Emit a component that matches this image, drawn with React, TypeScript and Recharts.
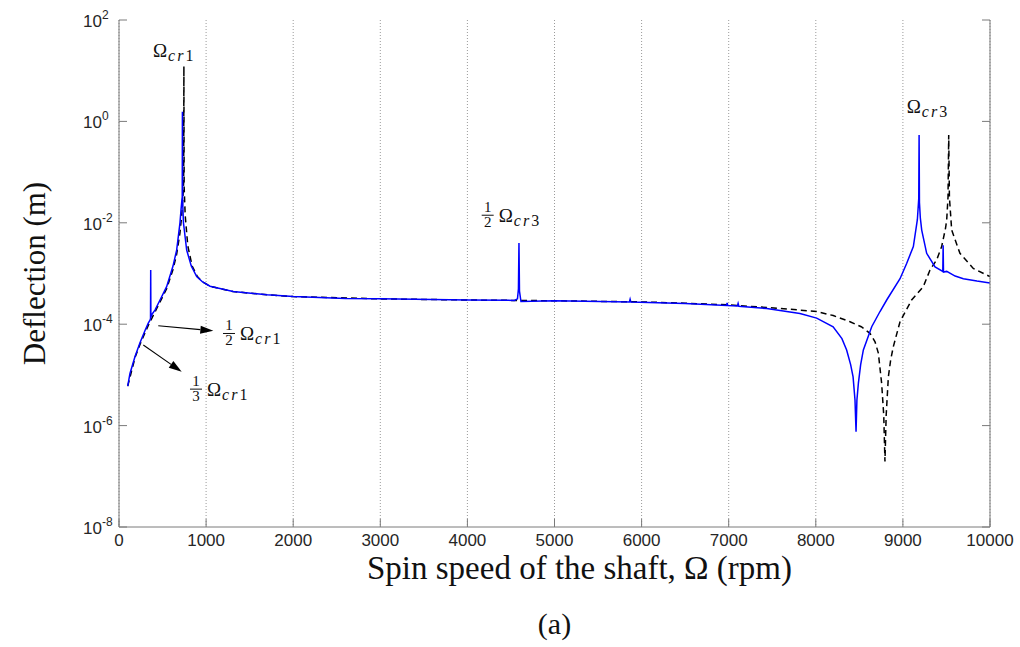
import React from 'react';
import { LineChart, Line, XAxis, YAxis, CartesianGrid, ReferenceDot, ReferenceLine, Label } from 'recharts';

// ---------- data ----------
const xTicks = [0, 1000, 2000, 3000, 4000, 5000, 6000, 7000, 8000, 9000, 10000];
const yTicks = [1e-8, 1e-6, 1e-4, 1e-2, 1, 100];
const yTickExponents = ['-8', '-6', '-4', '-2', '0', '2'];

// blue solid curve: spin speed (rpm) / deflection (m)
const blueRpm = [
  100, 126, 184, 241, 300, 336, 356, 362, 364, 366, 380, 413, 471, 547, 620, 662, 700, 712, 722, 726, 728, 730, 740,
  777, 830, 892, 960, 1045, 1310, 1700, 2000, 2600, 3000, 4000, 4540, 4575, 4586, 4592, 4598, 4615, 5000, 5860, 5868,
  5876, 6500, 6975, 6982, 6990, 7100, 7108, 7116, 7436, 7818, 8010, 8199, 8300, 8354, 8400, 8428, 8450, 8462, 8472,
  8489, 8515, 8546, 8642, 8737, 8814, 8967, 9043, 9120, 9166, 9182, 9186, 9190, 9200, 9216, 9273, 9369, 9458, 9462,
  9466, 9503, 9600, 9694, 9850, 10000,
];
const blueDeflection = [
  6.0e-6, 1.07e-5, 2.3e-5, 4.3e-5, 7.6e-5, 1.05e-4, 1.2e-4, 1.3e-4, 1.17e-3, 1.38e-4, 1.58e-4, 1.9e-4, 3.0e-4, 5.5e-4,
  1.4e-3, 2.9e-3, 1.0e-2, 1.8e-2, 2.8e-2, 3.2e-2, 1.55, 2.8e-2, 1.0e-2, 2.9e-3, 1.4e-3, 8.7e-4, 6.8e-4, 5.6e-4, 4.4e-4,
  3.8e-4, 3.5e-4, 3.2e-4, 3.16e-4, 3.0e-4, 2.95e-4, 3.16e-4, 5.0e-4, 4.0e-3, 4.5e-4, 2.8e-4, 2.9e-4, 2.75e-4, 3.1e-4,
  2.75e-4, 2.57e-4, 2.34e-4, 2.63e-4, 2.34e-4, 2.29e-4, 2.57e-4, 2.26e-4, 2.04e-4, 1.62e-4, 1.32e-4, 8.9e-5, 5.2e-5,
  3.1e-5, 1.6e-5, 9.1e-6, 3.2e-6, 7.6e-7, 3.2e-6, 6.9e-6, 1.6e-5, 3.1e-5, 8.9e-5, 1.78e-4, 3.0e-4, 7.9e-4, 1.58e-3,
  3.4e-3, 1.15e-2, 3.0e-2, 0.54, 2.5e-2, 1.26e-2, 7.2e-3, 2.5e-3, 1.35e-3, 1.1e-3, 3.6e-3, 1.07e-3, 1.1e-3, 8.9e-4,
  7.9e-4, 7.1e-4, 6.5e-4,
];

// black dashed curve
const blackRpm = [
  100, 184, 241, 336, 413, 471, 547, 620, 662, 700, 720, 735, 742, 745, 748, 760, 790, 840, 900, 960, 1045, 1310, 1700,
  2000, 3000, 4000, 5000, 6000, 6500, 7000, 7436, 7818, 8010, 8200, 8393, 8522, 8622, 8680, 8718, 8756, 8780, 8794,
  8808, 8833, 8860, 8890, 8967, 9100, 9234, 9311, 9388, 9445, 9490, 9503, 9518, 9526, 9534, 9560, 9655, 9808, 10000,
];
const blackDeflection = [
  6.0e-6, 2.2e-5, 4.0e-5, 9.5e-5, 1.74e-4, 2.75e-4, 5.0e-4, 1.2e-3, 2.4e-3, 6.3e-3, 1.4e-2, 3.5e-2, 6.3e-2, 12.3, 5.0e-2,
  1.4e-2, 3.5e-3, 1.4e-3, 8.7e-4, 6.8e-4, 5.6e-4, 4.4e-4, 3.8e-4, 3.5e-4, 3.16e-4, 3.0e-4, 2.9e-4, 2.75e-4, 2.6e-4,
  2.4e-4, 2.14e-4, 1.9e-4, 1.78e-4, 1.48e-4, 1.12e-4, 8.9e-5, 6.6e-5, 4.5e-5, 2.7e-5, 6.8e-6, 1.6e-6, 1.95e-7, 1.6e-6,
  9.1e-6, 2.0e-5, 3.6e-5, 1.12e-4, 3.0e-4, 5.5e-4, 1.17e-3, 1.86e-3, 3.4e-3, 7.9e-3, 1.15e-2, 3.2e-2, 0.54, 3.2e-2,
  7.2e-3, 2.5e-3, 1.26e-3, 8.7e-4,
];

// annotations (data coordinates of left edge / Omega baseline)
const annotations = [
  { rpm: 390, defl: 18.6, denom: '', sub: '1' },
  { rpm: 1194, defl: 4.88e-5, denom: '2', sub: '1' },
  { rpm: 815, defl: 3.9e-6, denom: '3', sub: '1' },
  { rpm: 4164, defl: 1.05e-2, denom: '2', sub: '3' },
  { rpm: 9044, defl: 1.445, denom: '', sub: '3' },
];
const arrows = [
  { fromRpm: 451, fromDefl: 9.3e-5, toRpm: 1083, toDefl: 7.4e-5 },
  { fromRpm: 279, fromDefl: 3.9e-5, toRpm: 720, toDefl: 1.15e-5 },
];

const blueData = blueRpm.map((r, i) => ({ rpm: r, d: blueDeflection[i] }));
const blackData = blackRpm.map((r, i) => ({ rpm: r, d: blackDeflection[i] }));

// ---------- styles ----------
const AXIS = '#7a7a7a';
const TXT = '#262626';
const SANS = '"Liberation Sans", Arial, sans-serif';
const SERIF = '"Liberation Serif", "Times New Roman", serif';
const TICK_LEN = 8;

const BottomTick = (p: any) => {
  const { x, y, payload } = p;
  return (
    <g>
      <line x1={x} x2={x} y1={y} y2={y - TICK_LEN} stroke={AXIS} strokeWidth={1} />
      <text x={x} y={y + 19} textAnchor="middle" fontSize={17} fontFamily={SANS} fill={TXT}>
        {payload.value}
      </text>
    </g>
  );
};
const TopTick = (p: any) => {
  const { x, y } = p;
  return <line x1={x} x2={x} y1={y} y2={y + TICK_LEN} stroke={AXIS} strokeWidth={1} />;
};
const LeftTick = (p: any) => {
  const { x, y, payload } = p;
  const idx = yTicks.indexOf(payload.value);
  return (
    <g>
      <line x1={x} x2={x + TICK_LEN} y1={y} y2={y} stroke={AXIS} strokeWidth={1} />
      <text x={x - 17} y={y + 7} textAnchor="end" fontSize={17} fontFamily={SANS} fill={TXT}>
        10
      </text>
      <text x={x - 17} y={y - 1} textAnchor="start" fontSize={12} fontFamily={SANS} fill={TXT}>
        {yTickExponents[idx]}
      </text>
    </g>
  );
};
const RightTick = (p: any) => {
  const { x, y } = p;
  return <line x1={x} x2={x - TICK_LEN} y1={y} y2={y} stroke={AXIS} strokeWidth={1} />;
};

const makeAnnotation = (denom: string, sub: string) => (p: any) => {
  const { cx, cy } = p;
  const parts: any[] = [];
  let ox = cx;
  if (denom) {
    parts.push(
      <text key="n" x={cx + 6} y={cy - 9.5} textAnchor="middle" fontSize={15} fontFamily={SERIF} fill="#111">1</text>,
      <line key="b" x1={cx} x2={cx + 12} y1={cy - 6.5} y2={cy - 6.5} stroke="#111" strokeWidth={1} />,
      <text key="d" x={cx + 6} y={cy + 5} textAnchor="middle" fontSize={15} fontFamily={SERIF} fill="#111">{denom}</text>
    );
    ox = cx + 17;
  }
  parts.push(
    <text key="o" x={ox} y={cy} fontSize={19} fontFamily={SERIF} fill="#111">
      Ω
      <tspan dx={1} dy={4} fontSize={16} fontStyle="italic" letterSpacing={2}>cr</tspan>
      <tspan fontSize={16}>{sub}</tspan>
    </text>
  );
  return <g>{parts}</g>;
};

const ArrowShape = (p: any) => {
  const { x1, y1, x2, y2 } = p;
  const ang = Math.atan2(y2 - y1, x2 - x1);
  const L = 13;
  const W = 4;
  const bx = x2 - L * Math.cos(ang);
  const by = y2 - L * Math.sin(ang);
  const px = -Math.sin(ang) * W;
  const py = Math.cos(ang) * W;
  return (
    <g>
      <line x1={x1} y1={y1} x2={bx} y2={by} stroke="#000" strokeWidth={1.1} />
      <polygon points={`${x2},${y2} ${bx + px},${by + py} ${bx - px},${by - py}`} fill="#000" />
    </g>
  );
};

export default function App() {
  return (
    <div style={{ position: 'absolute', left: 0, top: 0, width: 1020, height: 647, background: '#fff' }}>
      <LineChart width={1020} height={647} margin={{ top: 20, right: 0, left: 0, bottom: 0 }}>
        <CartesianGrid vertical horizontal={false} stroke="#9a9a9a" strokeDasharray="1 2" />
        <XAxis
          dataKey="rpm"
          type="number"
          domain={[0, 10000]}
          ticks={xTicks}
          allowDataOverflow
          height={120}
          tickSize={0}
          tickMargin={0}
          tick={BottomTick}
          axisLine={{ stroke: AXIS }}
          tickLine={false}
        >
          <Label
            content={(p: any) => {
              const vb = p.viewBox;
              const cx = vb.x + vb.width / 2;
              return (
                <g>
                  <text x={cx + 25} y={vb.y + 52} textAnchor="middle" fontSize={33} fontFamily={SERIF} fill="#111">
                    Spin speed of the shaft, Ω (rpm)
                  </text>
                  <text x={cx} y={vb.y + 107} textAnchor="middle" fontSize={30} fontFamily={SERIF} fill="#111">
                    (a)
                  </text>
                </g>
              );
            }}
          />
        </XAxis>
        <XAxis
          xAxisId="top"
          orientation="top"
          type="number"
          domain={[0, 10000]}
          ticks={xTicks}
          allowDataOverflow
          height={0}
          tickSize={0}
          tickMargin={0}
          tick={TopTick}
          axisLine={{ stroke: AXIS }}
          tickLine={false}
        />
        <YAxis
          scale="log"
          type="number"
          domain={[1e-8, 100]}
          ticks={yTicks}
          allowDataOverflow
          width={119}
          tickSize={0}
          tickMargin={0}
          tick={LeftTick}
          axisLine={{ stroke: AXIS }}
          tickLine={false}
        >
          <Label
            content={(p: any) => {
              const vb = p.viewBox;
              const x = 45;
              const y = vb.y + vb.height / 2;
              return (
                <text x={x} y={y} transform={`rotate(-90, ${x}, ${y})`} textAnchor="middle" fontSize={31} fontFamily={SERIF} fill="#111">
                  Deflection (m)
                </text>
              );
            }}
          />
        </YAxis>
        <YAxis
          yAxisId="right"
          orientation="right"
          scale="log"
          type="number"
          domain={[1e-8, 100]}
          ticks={yTicks}
          allowDataOverflow
          width={30}
          tickSize={0}
          tickMargin={0}
          tick={RightTick}
          axisLine={{ stroke: AXIS }}
          tickLine={false}
        />
        <Line
          data={blackData}
          dataKey="d"
          type="linear"
          stroke="#000"
          strokeWidth={1.5}
          strokeDasharray="6 4"
          dot={false}
          isAnimationActive={false}
        />
        <Line
          data={blueData}
          dataKey="d"
          type="linear"
          stroke="#0000ff"
          strokeWidth={1.5}
          dot={false}
          isAnimationActive={false}
        />
        {annotations.map((a, i) => (
          <ReferenceDot key={`a${i}`} x={a.rpm} y={a.defl} r={0} shape={makeAnnotation(a.denom, a.sub)} />
        ))}
        {arrows.map((a, i) => (
          <ReferenceLine
            key={`r${i}`}
            segment={[
              { x: a.fromRpm, y: a.fromDefl },
              { x: a.toRpm, y: a.toDefl },
            ]}
            shape={ArrowShape}
          />
        ))}
      </LineChart>
    </div>
  );
}
